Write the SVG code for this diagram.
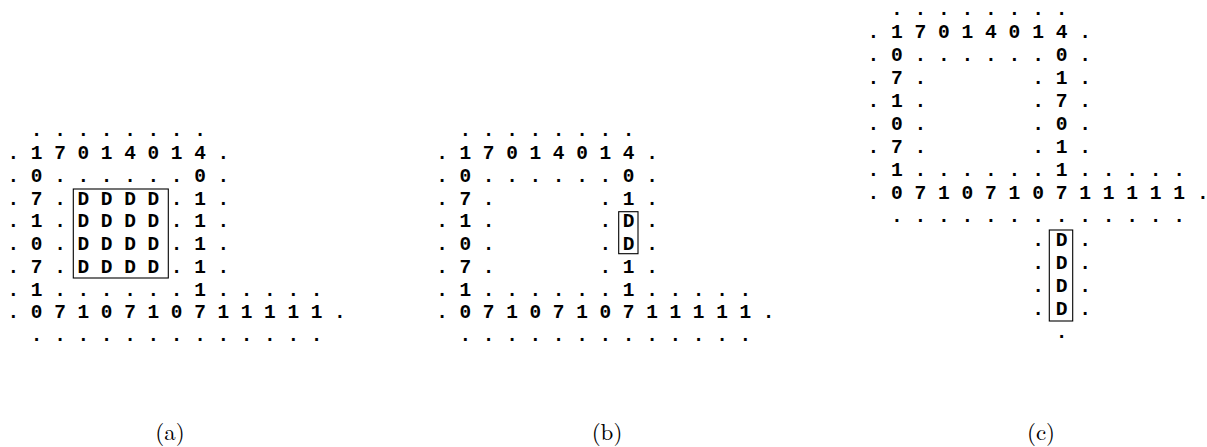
<svg xmlns="http://www.w3.org/2000/svg" width="1207" height="447" viewBox="0 0 1207 447">
<style>
.g{font-family:"Liberation Mono","DejaVu Sans Mono",monospace;font-weight:bold;font-size:19.44px;fill:#000;white-space:pre}
.gc{font-family:"Liberation Mono","DejaVu Sans Mono",monospace;font-weight:bold;font-size:19.62px;fill:#000;white-space:pre}
.box{fill:none;stroke:#000;stroke-width:1.1}
.lbl{font-family:"Latin Modern Roman","Liberation Serif",serif;font-size:23px;fill:#000;text-anchor:middle}
</style>
<rect width="1207" height="447" fill="#fff"/>
<g id="panel-a" xml:space="preserve">
<text class="g" x="7.5" y="136.3">  . . . . . . . .</text>
<text class="g" x="7.5" y="159.05">. 1 7 0 1 4 0 1 4 .</text>
<text class="g" x="7.5" y="181.8">. 0 . . . . . . 0 .</text>
<text class="g" x="7.5" y="204.55">. 7 . D D D D . 1 .</text>
<text class="g" x="7.5" y="227.3">. 1 . D D D D . 1 .</text>
<text class="g" x="7.5" y="250.05">. 0 . D D D D . 1 .</text>
<text class="g" x="7.5" y="272.8">. 7 . D D D D . 1 .</text>
<text class="g" x="7.5" y="295.55">. 1 . . . . . . 1 . . . . .</text>
<text class="g" x="7.5" y="318.3">. 0 7 1 0 7 1 0 7 1 1 1 1 1 .</text>
<text class="g" x="7.5" y="341.05">  . . . . . . . . . . . . .</text>
<rect class="box" x="73.3" y="189" width="95" height="89"/>
</g>
<g id="panel-b" xml:space="preserve">
<text class="g" x="436.2" y="136.3">  . . . . . . . .</text>
<text class="g" x="436.2" y="159.05">. 1 7 0 1 4 0 1 4 .</text>
<text class="g" x="436.2" y="181.8">. 0 . . . . . . 0 .</text>
<text class="g" x="436.2" y="204.55">. 7 .         . 1 .</text>
<text class="g" x="436.2" y="227.3">. 1 .         . D .</text>
<text class="g" x="436.2" y="250.05">. 0 .         . D .</text>
<text class="g" x="436.2" y="272.8">. 7 .         . 1 .</text>
<text class="g" x="436.2" y="295.55">. 1 . . . . . . 1 . . . . .</text>
<text class="g" x="436.2" y="318.3">. 0 7 1 0 7 1 0 7 1 1 1 1 1 .</text>
<text class="g" x="436.2" y="341.05">  . . . . . . . . . . . . .</text>
<rect class="box" x="618.7" y="211.7" width="19.3" height="42"/>
</g>
<g id="panel-c" xml:space="preserve">
<text class="gc" x="867.4" y="14.5">  . . . . . . . .</text>
<text class="gc" x="867.4" y="37.6">. 1 7 0 1 4 0 1 4 .</text>
<text class="gc" x="867.4" y="60.7">. 0 . . . . . . 0 .</text>
<text class="gc" x="867.4" y="83.8">. 7 .         . 1 .</text>
<text class="gc" x="867.4" y="106.9">. 1 .         . 7 .</text>
<text class="gc" x="867.4" y="130">. 0 .         . 0 .</text>
<text class="gc" x="867.4" y="153.1">. 7 .         . 1 .</text>
<text class="gc" x="867.4" y="176.2">. 1 . . . . . . 1 . . . . .</text>
<text class="gc" x="867.4" y="199.3">. 0 7 1 0 7 1 0 7 1 1 1 1 1 .</text>
<text class="gc" x="867.4" y="222.4">  . . . . . . . . . . . . .</text>
<text class="gc" x="867.4" y="245.5">              . D .</text>
<text class="gc" x="867.4" y="268.6">              . D .</text>
<text class="gc" x="867.4" y="291.7">              . D .</text>
<text class="gc" x="867.4" y="314.8">              . D .</text>
<text class="gc" x="867.4" y="337.9">                .</text>
<rect class="box" x="1049.3" y="230" width="23.4" height="91"/>
</g>
<g id="labels">
<text class="lbl" x="170" y="440">(a)</text>
<text class="lbl" x="607" y="440">(b)</text>
<text class="lbl" x="1041" y="440">(c)</text>
</g>
</svg>
